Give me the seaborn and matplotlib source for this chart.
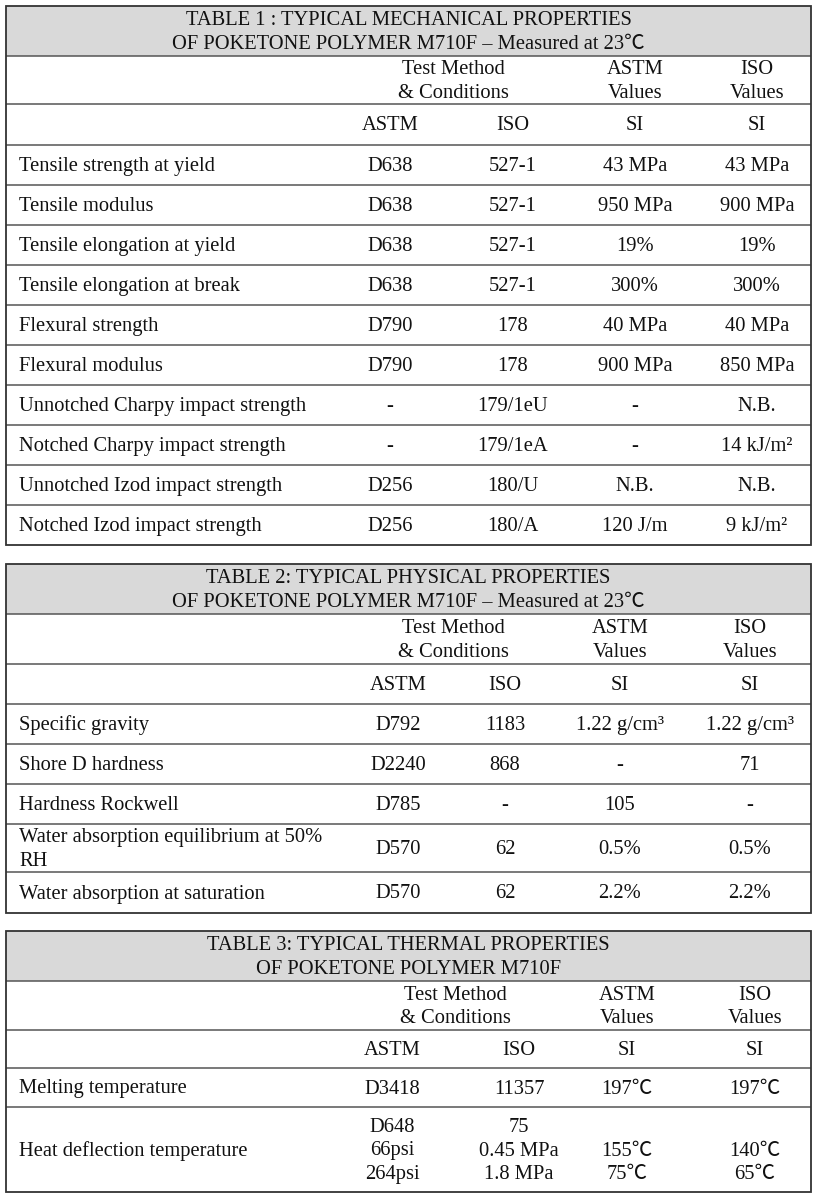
import matplotlib
matplotlib.use("Agg")
import matplotlib.pyplot as plt
import seaborn as sns
from matplotlib.patches import Rectangle

sns.set_theme(style="white")
plt.rcParams['font.family'] = ['Liberation Serif', 'Noto Sans CJK JP', 'DejaVu Sans']

# ---- table data ----
t1_title = ["TABLE 1 : TYPICAL MECHANICAL PROPERTIES",
            "OF POKETONE POLYMER M710F – Measured at 23℃"]
t1_props = ["Tensile strength at yield", "Tensile modulus", "Tensile elongation at yield",
            "Tensile elongation at break", "Flexural strength", "Flexural modulus",
            "Unnotched Charpy impact strength", "Notched Charpy impact strength",
            "Unnotched Izod impact strength", "Notched Izod impact strength"]
t1_astm = ["D638", "D638", "D638", "D638", "D790", "D790", "-", "-", "D256", "D256"]
t1_iso = ["527-1", "527-1", "527-1", "527-1", "178", "178", "179/1eU", "179/1eA", "180/U", "180/A"]
t1_astm_si = ["43 MPa", "950 MPa", "19%", "300%", "40 MPa", "900 MPa", "-", "-", "N.B.", "120 J/m"]
t1_iso_si = ["43 MPa", "900 MPa", "19%", "300%", "40 MPa", "850 MPa", "N.B.", "14 kJ/m²", "N.B.", "9 kJ/m²"]

t2_title = ["TABLE 2: TYPICAL PHYSICAL PROPERTIES",
            "OF POKETONE POLYMER M710F – Measured at 23℃"]
t2_props = ["Specific gravity", "Shore D hardness", "Hardness Rockwell",
            "Water absorption equilibrium at 50%\nRH", "Water absorption at saturation"]
t2_astm = ["D792", "D2240", "D785", "D570", "D570"]
t2_iso = ["1183", "868", "-", "62", "62"]
t2_astm_si = ["1.22 g/cm³", "-", "105", "0.5%", "2.2%"]
t2_iso_si = ["1.22 g/cm³", "71", "-", "0.5%", "2.2%"]

t3_title = ["TABLE 3: TYPICAL THERMAL PROPERTIES",
            "OF POKETONE POLYMER M710F"]
t3_props = ["Melting temperature", "Heat deflection temperature"]
t3_astm = ["D3418", "D648\n66psi\n264psi"]
t3_iso = ["11357", "75\n0.45 MPa\n1.8 MPa"]
t3_astm_si = ["197℃", "\n155℃\n75℃"]
t3_iso_si = ["197℃", "\n140℃\n65℃"]

head_method = "Test Method\n& Conditions"
head_astm_val = "ASTM\nValues"
head_iso_val = "ISO\nValues"
sub_heads = ["ASTM", "ISO", "SI", "SI"]

FS = 14.8
PITCH = 23.3
LEFT, RIGHT = 6, 811
LINE = "#555555"
EDGE = "#333333"


def cell(ax, x, yc, txt, ha="center"):
    lines = txt.split("\n")
    n = len(lines)
    for i, ln in enumerate(lines):
        y = yc + (i - (n - 1) / 2) * PITCH + 1.5
        ax.text(x, y, ln, ha=ha, va="center", fontsize=FS, color="#111111")


def draw_table(ax, top, title, props, astm, iso, astm_si, iso_si,
               heights, cols, method_x):
    band, head, sub = heights[:3]
    rows = heights[3:]
    bottom = top + sum(heights)
    ax.add_patch(Rectangle((LEFT, top), RIGHT - LEFT, band, facecolor="#d9d9d9",
                           edgecolor="none", zorder=0))
    cell(ax, (LEFT + RIGHT) / 2, top + band / 2, "\n".join(title))
    y = top + band
    ax.hlines(y, LEFT, RIGHT, color=LINE, lw=1.1)
    cell(ax, method_x, y + head / 2, head_method)
    cell(ax, cols[2], y + head / 2, head_astm_val)
    cell(ax, cols[3], y + head / 2, head_iso_val)
    y += head
    ax.hlines(y, LEFT, RIGHT, color=LINE, lw=1.1)
    for x, s in zip(cols, sub_heads):
        cell(ax, x, y + sub / 2, s)
    y += sub
    for i, h in enumerate(rows):
        ax.hlines(y, LEFT, RIGHT, color=LINE, lw=1.1)
        yc = y + h / 2
        cell(ax, 19, yc, props[i], ha="left")
        for x, v in zip(cols, [astm[i], iso[i], astm_si[i], iso_si[i]]):
            cell(ax, x, yc, v)
        y += h
    ax.add_patch(Rectangle((LEFT, top), RIGHT - LEFT, bottom - top, facecolor="none",
                           edgecolor=EDGE, lw=1.3, zorder=3))


fig = plt.figure(figsize=(8.17, 12), dpi=100)
ax = fig.add_axes([0, 0, 1, 1])
ax.set_xlim(0, 817)
ax.set_ylim(1200, 0)
ax.axis("off")

draw_table(ax, 6, t1_title, t1_props, t1_astm, t1_iso, t1_astm_si, t1_iso_si,
           [50, 48, 41] + [40] * 10, [390, 513, 635, 757], 453)
draw_table(ax, 564, t2_title, t2_props, t2_astm, t2_iso, t2_astm_si, t2_iso_si,
           [50, 50, 40, 40, 40, 40, 48, 41], [398, 505, 620, 750], 453)
draw_table(ax, 931, t3_title, t3_props, t3_astm, t3_iso, t3_astm_si, t3_iso_si,
           [50, 49, 38, 39, 85], [392, 519, 627, 755], 455)

fig.savefig("out.png", dpi=100, facecolor="white")
